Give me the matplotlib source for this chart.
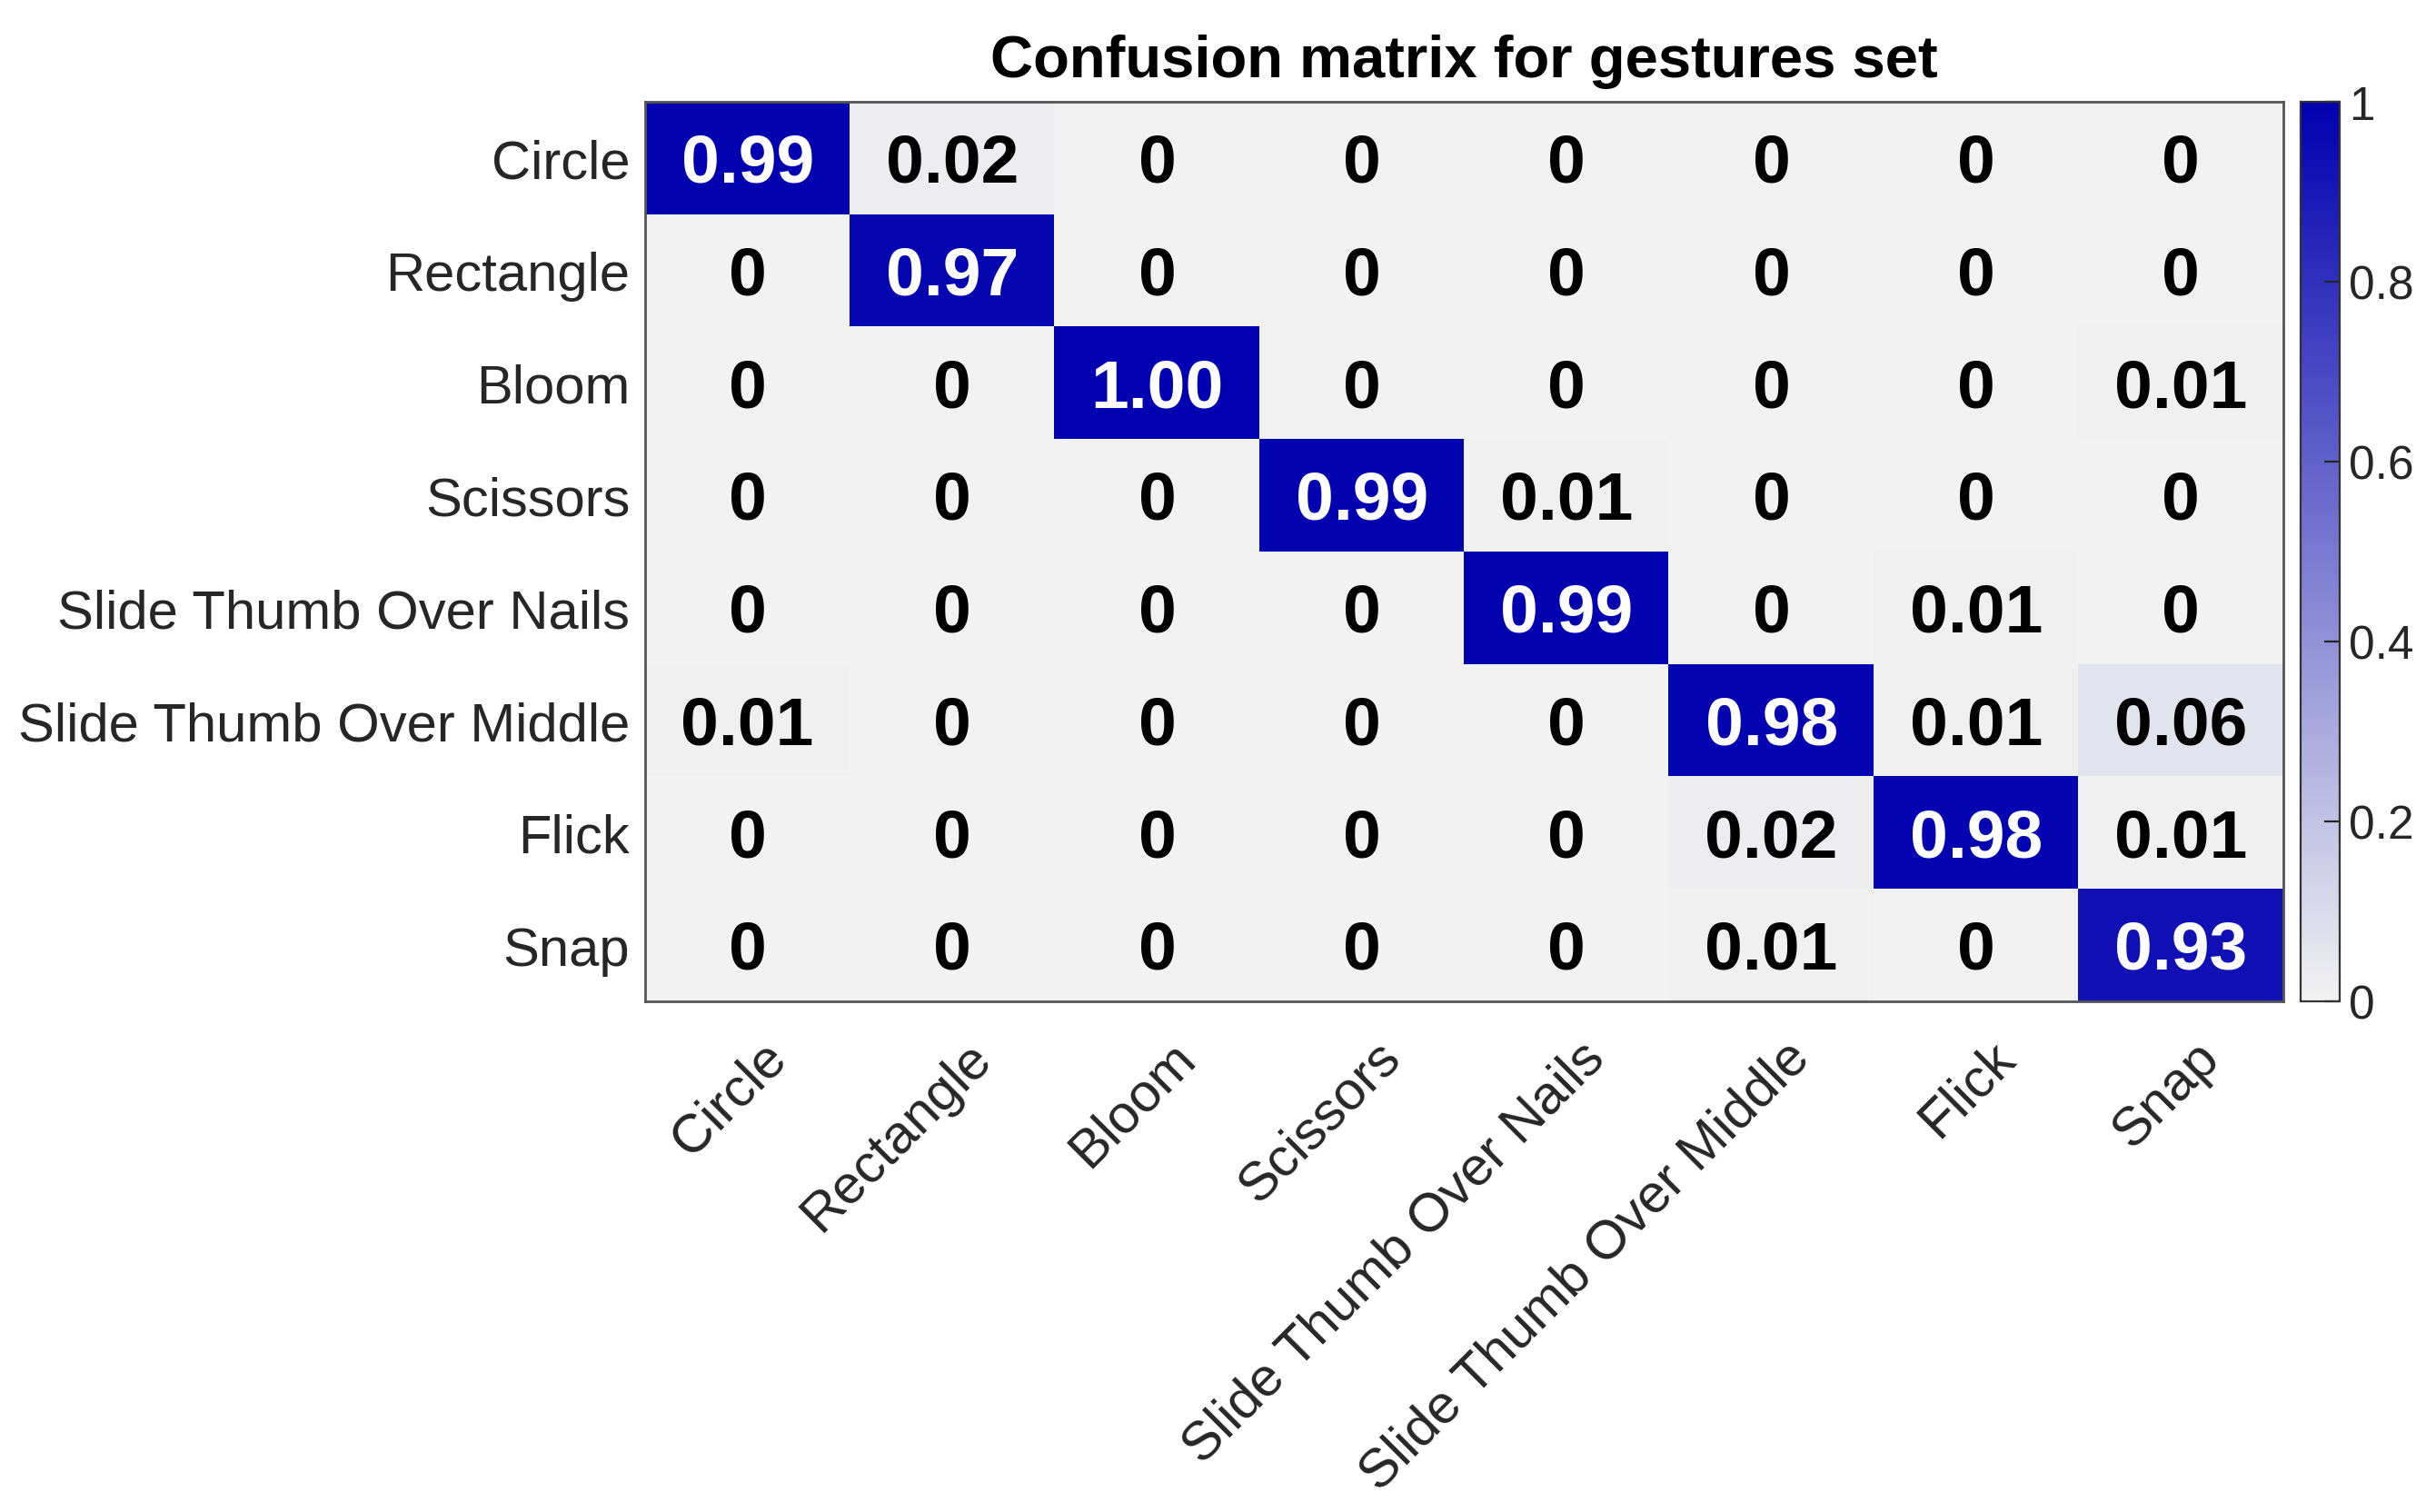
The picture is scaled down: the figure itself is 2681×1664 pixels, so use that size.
import numpy as np
import matplotlib.pyplot as plt
import matplotlib.transforms as mtransforms
from matplotlib.colors import LinearSegmentedColormap

labels = ["Circle", "Rectangle", "Bloom", "Scissors", "Slide Thumb Over Nails",
          "Slide Thumb Over Middle", "Flick", "Snap"]

row_circle = [0.99, 0.02, 0, 0, 0, 0, 0, 0]
row_rectangle = [0, 0.97, 0, 0, 0, 0, 0, 0]
row_bloom = [0, 0, 1.00, 0, 0, 0, 0, 0.01]
row_scissors = [0, 0, 0, 0.99, 0.01, 0, 0, 0]
row_nails = [0, 0, 0, 0, 0.99, 0, 0.01, 0]
row_middle = [0.01, 0, 0, 0, 0, 0.98, 0.01, 0.06]
row_flick = [0, 0, 0, 0, 0, 0.02, 0.98, 0.01]
row_snap = [0, 0, 0, 0, 0, 0.01, 0, 0.93]

cm = np.array([row_circle, row_rectangle, row_bloom, row_scissors,
               row_nails, row_middle, row_flick, row_snap])

plt.rcParams["font.family"] = ["Liberation Sans", "DejaVu Sans"]

cmap = LinearSegmentedColormap.from_list("wb", ["#f2f2f2", "#0000b0"])

fig = plt.figure(figsize=(13.405, 8.325), dpi=200)
ax = fig.add_axes([710 / 2681, 1 - 1103 / 1665, (2513 - 710) / 2681, (1103 - 113) / 1665])
cax = fig.add_axes([2532 / 2681, 1 - 1103 / 1665, 43 / 2681, (1103 - 113) / 1665])

im = ax.imshow(cm, cmap=cmap, vmin=0, vmax=1, aspect="auto")

for i in range(cm.shape[0]):
    for j in range(cm.shape[1]):
        v = cm[i, j]
        txt = "0" if v == 0 else f"{v:.2f}"
        color = "white" if v > 0.5 else "black"
        ax.text(j, i + 0.05, txt, ha="center", va="center", fontsize=27,
                fontweight="bold", color=color)

ax.set_xticks(range(len(labels)))
ax.set_yticks(range(len(labels)))
ax.set_xticklabels(labels, rotation=45, ha="right", rotation_mode="anchor", fontsize=21.5)
ax.set_yticklabels(labels, fontsize=21.5)
ax.tick_params(axis="y", length=0, pad=6, colors="#262626")
ax.tick_params(axis="x", length=0, pad=12, colors="#262626")
shift = mtransforms.ScaledTranslation(0.07, 0, fig.dpi_scale_trans)
for lbl in ax.get_xticklabels():
    lbl.set_transform(lbl.get_transform() + shift)
for s in ax.spines.values():
    s.set_color("#555555")
    s.set_linewidth(1)
ax.set_title("Confusion matrix for gestures set", fontsize=23.5, fontweight="bold", pad=10)

cb = fig.colorbar(im, cax=cax)
cb.set_ticks([0, 0.2, 0.4, 0.6, 0.8, 1])
cb.set_ticklabels(["0", "0.2", "0.4", "0.6", "0.8", "1"])
cb.ax.tick_params(direction="in", length=6, labelsize=18.5, colors="#262626", width=0.8)
cb.outline.set_edgecolor("#333333")

plt.savefig("out.png", dpi=200)
plt.close()
